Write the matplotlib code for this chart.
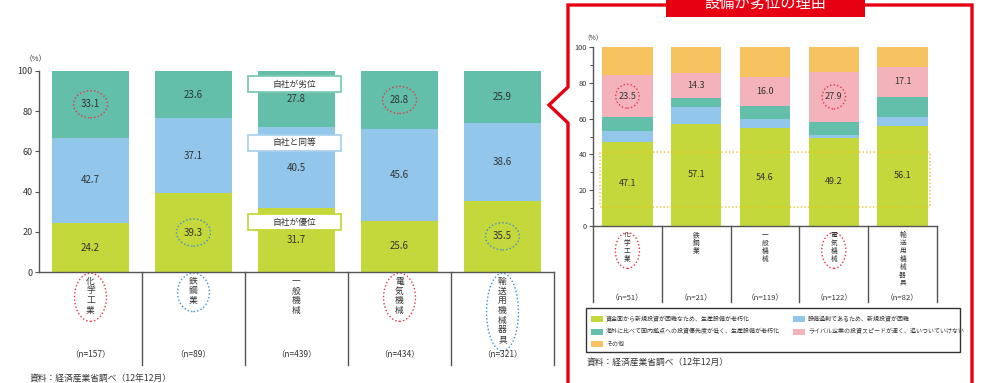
import matplotlib
matplotlib.use("Agg")
import matplotlib.pyplot as plt
from matplotlib.patches import Ellipse, Rectangle, FancyBboxPatch
import numpy as np

plt.rcParams['font.family'] = ['Noto Sans CJK JP', 'DejaVu Sans']

# ---- data: position of own equipment vs. competitors (left) ----
categories = ["化学工業", "鉄鋼業", "一般機械", "電気機械", "輸送用機械器具"]
n_left = [157, 89, 439, 434, 321]
superior = [24.2, 39.3, 31.7, 25.6, 35.5]   # 自社が優位
equal = [42.7, 37.1, 40.5, 45.6, 38.6]      # 自社と同等
inferior = [33.1, 23.6, 27.8, 28.8, 25.9]   # 自社が劣位

# ---- data: reasons for inferior equipment (right) ----
n_right = [51, 21, 119, 122, 82]
funding = [47.1, 57.1, 54.6, 49.2, 56.1]
excess = [5.9, 9.5, 5.0, 1.6, 4.9]
priority = [7.8, 4.8, 7.6, 7.4, 11.0]
rival = [23.5, 14.3, 16.0, 27.9, 17.1]
other = [15.7, 14.3, 16.8, 13.9, 11.0]

reason_labels = [
    "資金面から新規投資が困難なため、生産設備が老朽化",
    "設備過剰であるため、新規投資が困難",
    "海外に比べて国内拠点への投資優先度が低く、生産設備が老朽化",
    "ライバル企業の投資スピードが速く、追いついていけない",
    "その他",
]
position_labels = ["自社が優位", "自社と同等", "自社が劣位"]
source_text = "資料：経済産業省調べ（12年12月）"
panel_title = "設備が劣位の理由"

GREEN = "#c4d83b"
BLUE = "#92c6ea"
TEAL = "#63bfa9"
PINK = "#f4b2ba"
ORANGE = "#f7c360"
RED = "#e60012"
TXT = "#333333"
AXC = "#555555"
DOT = (0, (1, 1.6))
RED_DOT = "#e8334a"
BLUE_DOT = "#3a8fd6"

W, H = 985, 383
fig = plt.figure(figsize=(W / 100, H / 100), dpi=100)


def fig_rect(x0, y0, x1, y1):
    return [x0 / W, 1 - y1 / H, (x1 - x0) / W, (y1 - y0) / H]


axL = fig.add_axes(fig_rect(39, 71, 554, 272))
axR = fig.add_axes(fig_rect(593, 47, 937, 226))
ov = fig.add_axes([0, 0, 1, 1], zorder=10)
ov.set_xlim(0, W)
ov.set_ylim(H, 0)
ov.axis("off")
ov.patch.set_alpha(0)


def style_axis(ax, labelsize):
    ax.set_xlim(-0.5, 4.5)
    ax.set_ylim(0, 100)
    for s in ("top", "right"):
        ax.spines[s].set_visible(False)
    for s in ("left", "bottom"):
        ax.spines[s].set_color(AXC)
        ax.spines[s].set_linewidth(1.0)
    ax.set_xticks([])
    ax.set_yticks(range(0, 101, 20))
    ax.tick_params(axis="y", labelsize=labelsize, length=3, width=0.8,
                   color=AXC, labelcolor=TXT, pad=1.5)


def vertical_label(ax, xc, first_y, pitch, text, size):
    # stack characters top-to-bottom (vertical writing)
    for k, ch in enumerate(text):
        ax.text(xc, first_y - k * pitch, ch, ha="center", va="center",
                fontsize=size, color=TXT, clip_on=False)


# ---------------- left chart ----------------
x = np.arange(len(categories))
wL = 0.74
segs = [(superior, GREEN), (equal, BLUE), (inferior, TEAL)]
bottom = np.zeros(len(x))
centers = []
for vals, col in segs:
    vals = np.array(vals)
    axL.bar(x, vals, wL, bottom=bottom, color=col, edgecolor="none")
    c = bottom + vals / 2
    centers.append(c)
    for xi, ci, v in zip(x, c, vals):
        axL.text(xi, ci, f"{v:.1f}", ha="center", va="center", fontsize=7, color=TXT)
    bottom = bottom + vals
style_axis(axL, 6.5)

# highlight ellipses on values
for i in (0, 3):
    axL.add_patch(Ellipse((i, centers[2][i]), 0.33, 13.5, fill=False,
                          edgecolor=RED_DOT, linestyle=DOT, lw=1.0))
for i in (1, 4):
    axL.add_patch(Ellipse((i, centers[0][i]), 0.33, 13.5, fill=False,
                          edgecolor=BLUE_DOT, linestyle=DOT, lw=1.0))

# category area below the axis
for b in np.arange(0.5, 5, 1.0):
    axL.plot([b, b], [0, -46.3], color=AXC, lw=1.0, clip_on=False)
for i, (name, n) in enumerate(zip(categories, n_left)):
    vertical_label(axL, i, -4.6, 4.85, name, 6.3)
    axL.text(i, -40.5, f"（n={n}）", ha="center", va="center", fontsize=6,
             color=TXT, clip_on=False)
for i, col in [(0, RED_DOT), (1, BLUE_DOT), (3, RED_DOT), (4, BLUE_DOT)]:
    h = (9.8 * len(categories[i]) + 9) / 2.01
    axL.add_patch(Ellipse((i, -0.6 - h / 2), 0.31, h, fill=False, edgecolor=col,
                          linestyle=DOT, lw=1.0, clip_on=False))

# ---------------- right chart ----------------
wR = 0.73
segsR = [(funding, GREEN, True), (excess, BLUE, False), (priority, TEAL, False),
         (rival, PINK, True), (other, ORANGE, False)]
bottom = np.zeros(len(x))
centersR = []
for vals, col, show in segsR:
    vals = np.array(vals)
    axR.bar(x, vals, wR, bottom=bottom, color=col, edgecolor="none")
    c = bottom + vals / 2
    centersR.append(c)
    if show:
        for xi, ci, v in zip(x, c, vals):
            axR.text(xi, ci, f"{v:.1f}", ha="center", va="center", fontsize=6.5, color=TXT)
    bottom = bottom + vals
style_axis(axR, 5.3)
axR.set_yticks(range(10, 100, 20), minor=True)
axR.tick_params(axis="y", which="minor", length=2, width=0.7, color=AXC)

for i in (0, 3):
    axR.add_patch(Ellipse((i, centersR[3][i]), 0.34, 13.4, fill=False,
                          edgecolor=RED_DOT, linestyle=DOT, lw=1.0))
axR.add_patch(FancyBboxPatch((-0.398, 10.6), 4.796, 30.7,
                             boxstyle="round,pad=0,rounding_size=0.03",
                             fill=False, edgecolor="#f0c020", linestyle=DOT, lw=1.0,
                             mutation_aspect=20))

for b in np.arange(-0.5, 5, 1.0):
    axR.plot([b, b], [0, -42.5], color=AXC, lw=1.0, clip_on=False)
for i, (name, n) in enumerate(zip(categories, n_right)):
    vertical_label(axR, i, -5.0, 4.47, name, 4.8)
    axR.text(i, -40.2, f"（n={n}）", ha="center", va="center", fontsize=5.5,
             color=TXT, clip_on=False)
for i in (0, 3):
    axR.add_patch(Ellipse((i, -13.7), 0.35, 20, fill=False, edgecolor=RED_DOT,
                          linestyle=DOT, lw=1.0, clip_on=False))

# legend of reasons (two columns, framed)
ov.add_patch(Rectangle((586, 308), 374, 44, facecolor="white",
                       edgecolor="#333333", lw=1.0))
legend_slots = [(0, GREEN, 591, 319), (1, BLUE, 793, 319), (2, TEAL, 591, 331.5),
                (3, PINK, 793, 331.5), (4, ORANGE, 591, 344)]
for idx, col, lx, ly in legend_slots:
    ov.add_patch(Rectangle((lx, ly - 3), 12, 6, facecolor=col, edgecolor="none"))
    ov.text(lx + 15, ly, reason_labels[idx], ha="left", va="center",
            fontsize=4.3, color=TXT)

# ---------------- overlay: frame, labels, notes ----------------
ov.text(36, 59, "（%）", ha="center", va="center", fontsize=5.5, color=TXT)
ov.text(593, 38, "（%）", ha="center", va="center", fontsize=4.8, color=TXT)
ov.text(30, 378, source_text, ha="left", va="center", fontsize=6.3, color=TXT)
ov.text(587, 362, source_text, ha="left", va="center", fontsize=6.3, color=TXT)

# position tags on the middle bar
tag_y = [(214, 230, GREEN, position_labels[0]),
         (135, 151, "#a9d2ee", position_labels[1]),
         (76, 92, "#7fcab8", position_labels[2])]
for y0, y1, col, lab in tag_y:
    ov.add_patch(Rectangle((248, y0), 93, y1 - y0, facecolor="white",
                           edgecolor=col, lw=1.3))
    ov.text(294.5, (y0 + y1) / 2, lab, ha="center", va="center", fontsize=6.3, color=TXT)

# red callout frame
px = [568, 568, 549, 568, 568, 972, 972]
py = [H + 5, 123, 105, 87, 5, 5, H + 5]
ov.plot(px, py, color=RED, lw=2.4, solid_joinstyle="miter", clip_on=False)
ov.add_patch(Rectangle((666, -2), 199, 19, facecolor=RED, edgecolor="none"))
ov.text(765.5, 3, panel_title, ha="center", va="center", fontsize=11,
        color="white")

fig.savefig("out.png", dpi=100)
